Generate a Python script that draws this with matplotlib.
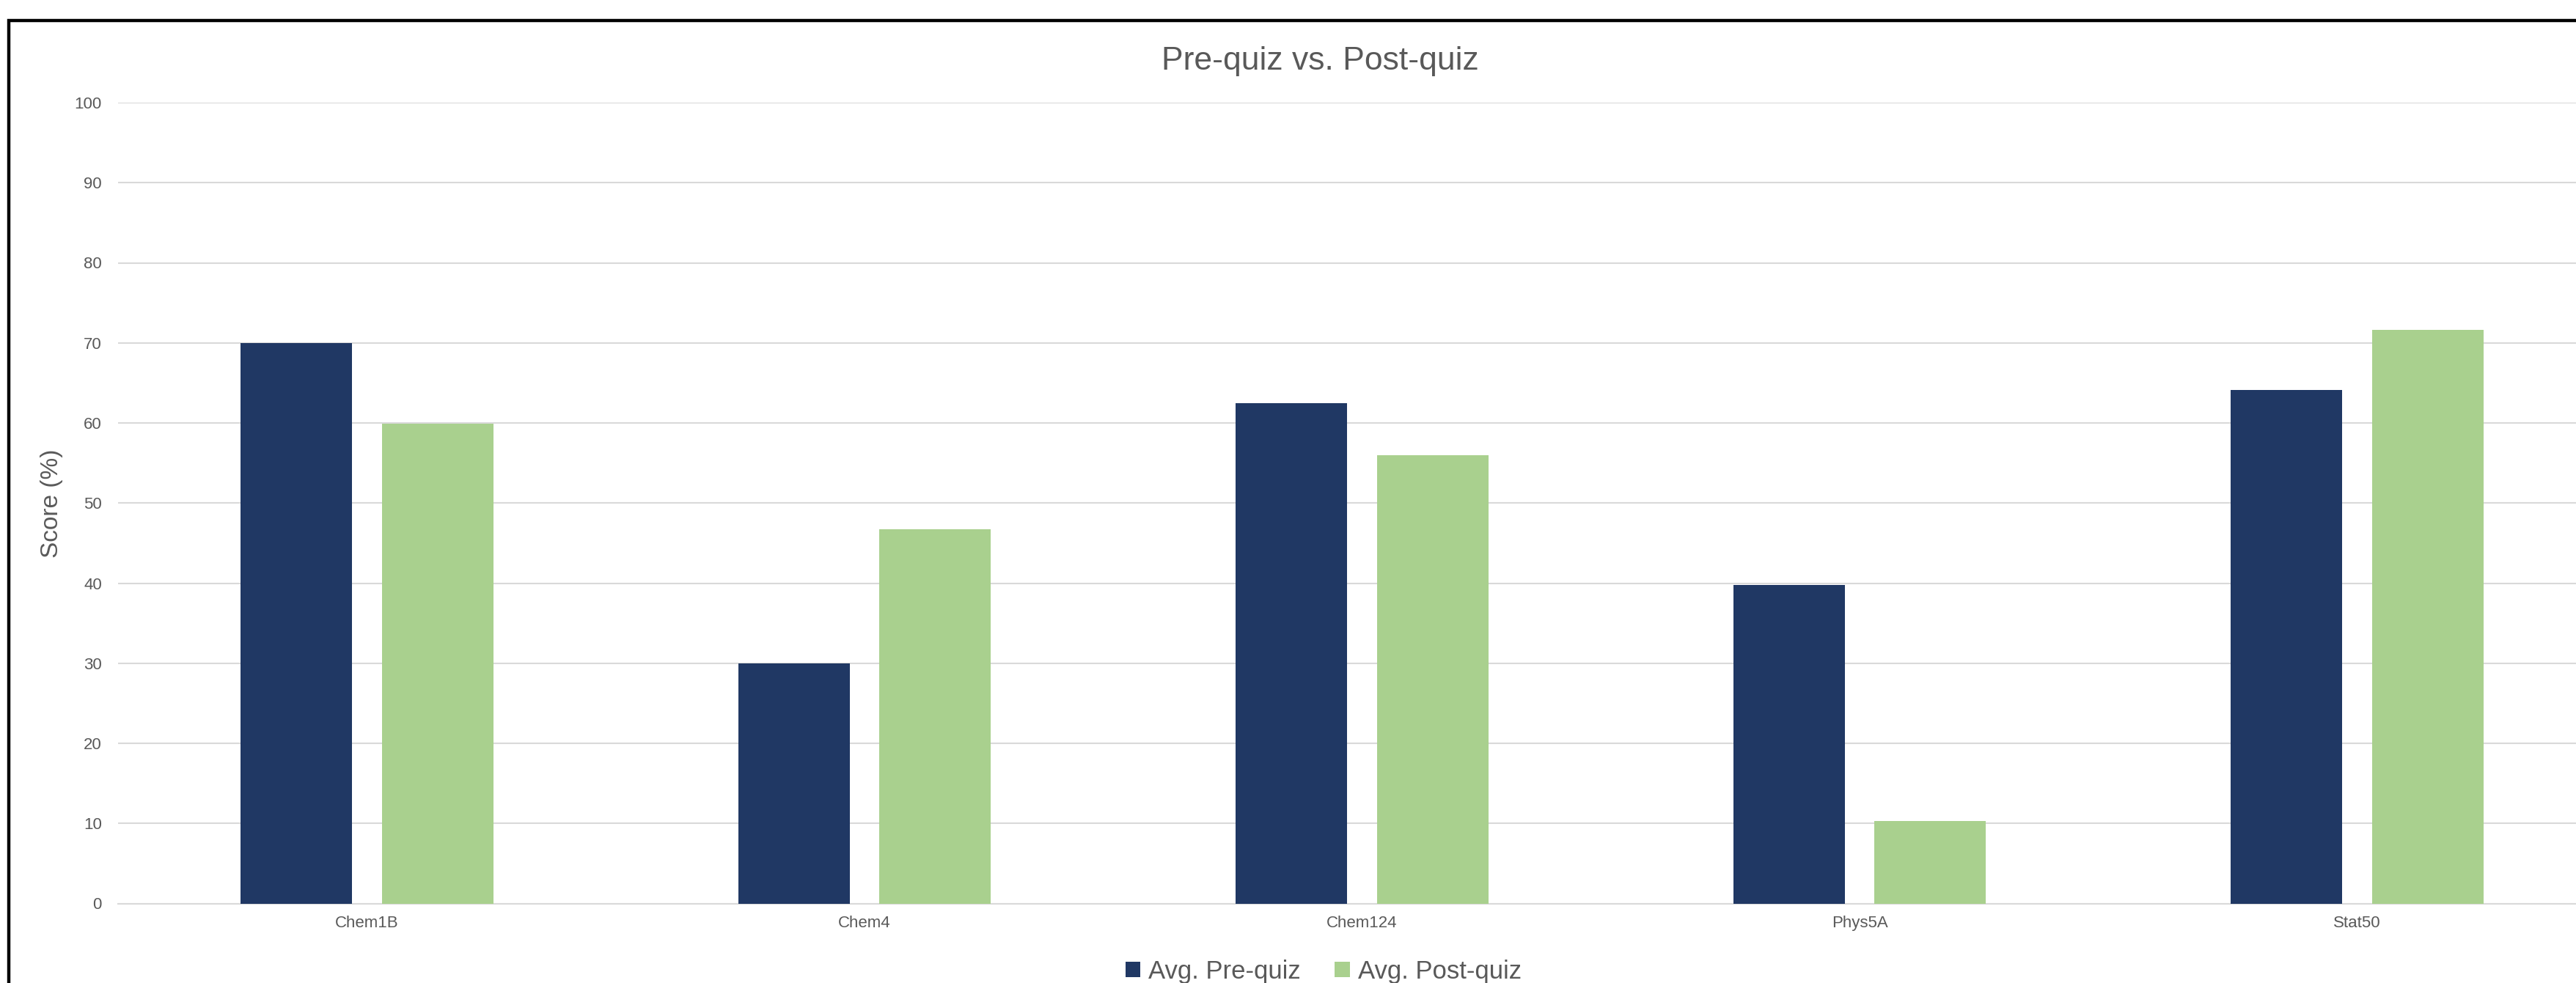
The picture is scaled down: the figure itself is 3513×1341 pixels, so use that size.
import numpy as np
import matplotlib
matplotlib.use('Agg')
import matplotlib.pyplot as plt
from matplotlib.lines import Line2D

# data
courses = ['Chem1B', 'Chem4', 'Chem124', 'Phys5A', 'Stat50']
pre_quiz = [70.0, 30.0, 62.5, 39.8, 64.1]
post_quiz = [59.9, 46.7, 56.0, 10.3, 71.6]
y_ticks = [0, 10, 20, 30, 40, 50, 60, 70, 80, 90, 100]

NAVY = '#203864'
GREEN = '#A9D08E'
GRID = '#D9D9D9'
TEXT = '#595959'

plt.rcParams['font.family'] = ['Liberation Sans', 'DejaVu Sans']

W, H, DPI = 3513, 1341, 100
fig = plt.figure(figsize=(W / DPI, H / DPI), dpi=DPI)

# plot area in pixels (right edge runs past the cropped image)
left_px, right_px, top_px, bottom_px = 161, 3554, 140, 1232.5
ax = fig.add_axes([left_px / W, 1 - bottom_px / H,
                   (right_px - left_px) / W, (bottom_px - top_px) / H])

x = np.arange(len(courses))
bw = 0.224
off = 0.142
b1 = ax.bar(x - off, pre_quiz, bw, color=NAVY, label='Avg. Pre-quiz', zorder=3)
b2 = ax.bar(x + off, post_quiz, bw, color=GREEN, label='Avg. Post-quiz', zorder=3)

ax.set_xlim(-0.5, len(courses) - 0.5)
ax.set_ylim(0, 100)
ax.set_yticks(y_ticks)
ax.set_xticks(x)
ax.set_xticklabels(courses)
ax.tick_params(axis='y', length=0, pad=16, labelsize=16, labelcolor=TEXT)
ax.tick_params(axis='x', length=0, pad=12, labelsize=16, labelcolor=TEXT)
ax.yaxis.grid(True, color=GRID, linewidth=1.5, zorder=0)
ax.set_axisbelow(True)
for s in ['top', 'right', 'left']:
    ax.spines[s].set_visible(False)
ax.spines['bottom'].set_color(GRID)
ax.spines['bottom'].set_linewidth(1.5)

fig.text(1800 / W, 1 - 95 / H, 'Pre-quiz vs. Post-quiz', ha='center',
         va='baseline', fontsize=32, color=TEXT)
fig.text(71 / W, 1 - 687 / H, 'Score (%)', rotation=90, ha='center',
         va='center', fontsize=24, color=TEXT)

fig.legend(handles=[b1, b2], loc='center', bbox_to_anchor=(1805 / W, 1 - 1325 / H),
           ncol=2, frameon=False, fontsize=25, labelcolor=TEXT,
           handlelength=0.58, handleheight=0.55, handletextpad=0.32,
           columnspacing=1.33, borderpad=0, borderaxespad=0)

# black chart border (only top and left edges show in the crop)
bx, by = 12 / W, 1 - 28 / H
fig.add_artist(Line2D([bx, bx, 1.01], [-0.01, by, by], color='black',
                      linewidth=3.2, solid_joinstyle='miter'))

fig.savefig('out.png', dpi=DPI)
